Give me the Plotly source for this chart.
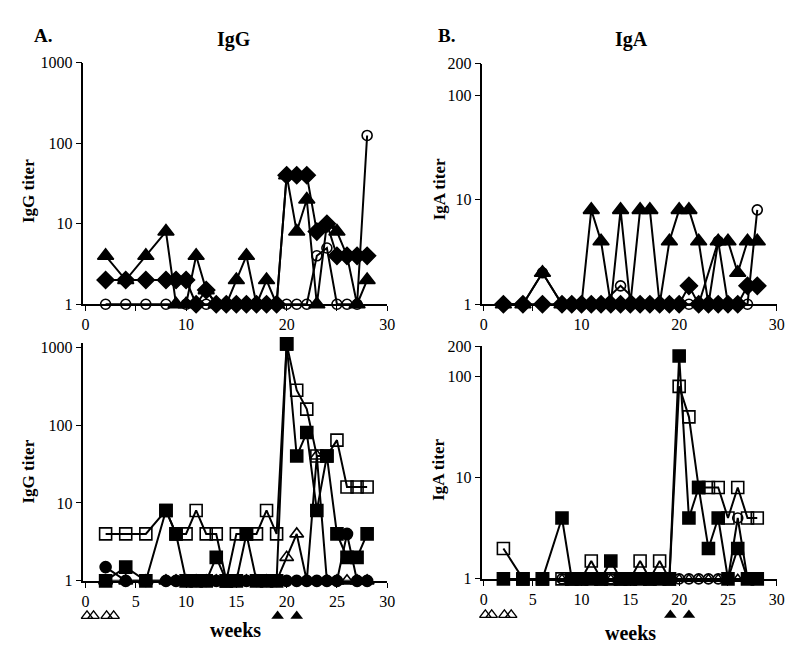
import math
import plotly.graph_objects as go

# ---------------- DATA ----------------
# Panel A top (IgG)
tl_tri_weeks = [2,4,6,8,9,10,11,12,13,14,15,16,17,18,19,20,21,22,23,24,25,26,27,28]
tl_tri_vals  = [4,2,4,8,1,1,4,1.5,1,1,2,4,1,2,1,40,8,20,1,10,8,4,1,2]
tl_dia_weeks = [2,4,6,8,9,10,11,12,13,14,15,16,17,18,19,20,21,22,23,24,25,26,27,28]
tl_dia_vals  = [2,2,2,2,2,2,1,1.5,1,1,1,1,1,1,1,40,40,40,8,10,4,4,4,4]
tl_cir_weeks = [2,4,6,8,10,12,14,16,18,20,21,22,23,24,25,26,27,28]
tl_cir_vals  = [1,1,1,1,1,1,1,1,1,1,1,1,4,5,1,1,1,125]

# Panel B top (IgA)
tr_tri_weeks = [2,4,6,8,9,10,11,12,13,14,15,16,17,18,19,20,21,22,23,24,25,26,27,28]
tr_tri_vals  = [1,1,2,1,1,1,8,4,1,8,1,8,8,1,4,8,8,4,1,4,4,2,4,4]
tr_dia_weeks = [2,4,6,8,9,10,11,12,13,14,15,16,17,18,19,20,21,22,23,24,25,26,27,28]
tr_dia_vals  = [1,1,1,1,1,1,1,1,1,1,1,1,1,1,1,1,1.5,1,1,1,1,1,1.5,1.5]
tr_cir_weeks = [2,4,6,8,10,12,14,16,18,20,21,22,24,25,26,27,28]
tr_cir_vals  = [1,1,2,1,1,1,1.5,1,1,1,1,1,4,1,1,1,8]

# Panel A bottom (IgG)
bl_weeks     = [2,4,6,8,9,10,11,12,13,14,15,16,17,18,19,20,21,22,23,24,25,26,27,28]
bl_osq_vals  = [4,4,4,8,4,4,8,4,4,1,4,4,4,8,4,1100,280,160,40,40,64,16,16,16]
bl_fsq_vals  = [1,1.5,1,8,4,1,1,1,2,1,1,4,1,1,1,1100,40,80,8,40,4,2,2,4]
bl_fci_vals  = [1.5,1,1,1,1,1,1,1,1,1,1,1,1,1,1,1,1,1,1,1,1,4,1,1]
bl_otr_vals  = [1,1,1,1,1,1,1,1,1,1,1,1,1,1,1,2,4,1,40,1,1,1,1,1]

# Panel B bottom (IgA)
br_weeks     = [2,4,6,8,9,10,11,12,13,14,15,16,17,18,19,20,21,22,23,24,25,26,27,28]
br_osq_vals  = [2,1,1,1,1,1,1.5,1,1,1,1,1.5,1,1.5,1,80,40,8,8,8,4,8,4,4]
br_fsq_vals  = [1,1,1,4,1,1,1,1,1.5,1,1,1,1,1,1,160,4,8,2,4,1,2,1,1]
br_oci_vals  = [1,1,1,1,1,1,1,1,1,1,1,1,1,1,1,1,1,1,1,1,1,4,1,1]
br_otr_vals  = [1,1,1,1,1,1,1,1,1,1,1,1,1,1,1,1,1,1,1,1,1,1,1,1]

# immunisation marks under the bottom panels
imm_open_weeks   = [0.15, 0.8, 2.1, 2.8]
imm_filled_weeks = [19.1, 21.0]

left_ticks_y  = [1, 10, 100, 1000]
right_ticks_y = [1, 10, 100, 200]
top_x_ticks   = [0, 5, 10, 15, 20, 25, 30]
top_x_text    = ['0', '', '10', '', '20', '', '30']
bot_x_text    = ['0', '5', '10', '15', '20', '25', '30']

# ---------------- FIGURE ----------------
W, H = 798, 650
FONT = "Liberation Serif"
fig = go.Figure()

def px(x):
    return x / W

def py(y):
    return 1 - y / H

def add(xa, ya, x, y, symbol, size, lw=2.0, mlw=1.6):
    fig.add_trace(go.Scatter(
        x=x, y=y, xaxis=xa, yaxis=ya, mode='lines+markers',
        line=dict(color='black', width=lw),
        marker=dict(symbol=symbol, size=size, color='black',
                    line=dict(color='black', width=mlw)),
        cliponaxis=False, showlegend=False, hoverinfo='skip'))

# top-left
add('x', 'y', tl_cir_weeks, tl_cir_vals, 'circle-open', 10)
add('x', 'y', tl_dia_weeks, tl_dia_vals, 'diamond', 13)
add('x', 'y', tl_tri_weeks, tl_tri_vals, 'triangle-up', 14)
# top-right
add('x2', 'y2', tr_dia_weeks, tr_dia_vals, 'diamond', 13)
add('x2', 'y2', tr_tri_weeks, tr_tri_vals, 'triangle-up', 14)
add('x2', 'y2', tr_cir_weeks, tr_cir_vals, 'circle-open', 10)
# bottom-left
add('x3', 'y3', bl_weeks, bl_fci_vals, 'circle', 11)
add('x3', 'y3', bl_weeks, bl_fsq_vals, 'square', 12)
add('x3', 'y3', bl_weeks, bl_osq_vals, 'square-open', 12)
add('x3', 'y3', bl_weeks, bl_otr_vals, 'triangle-up-open', 12)
# bottom-right
add('x4', 'y4', br_weeks, br_otr_vals, 'triangle-up-open', 9)
add('x4', 'y4', br_weeks, br_oci_vals, 'circle-open', 10)
add('x4', 'y4', br_weeks, br_fsq_vals, 'square', 12)
add('x4', 'y4', br_weeks, br_osq_vals, 'square-open', 12)

# immunisation marks (on hidden helper y-axes below the bottom panels)
for xa, ya in [('x3', 'y5'), ('x4', 'y6')]:
    fig.add_trace(go.Scatter(x=imm_open_weeks, y=[0.5]*len(imm_open_weeks), xaxis=xa, yaxis=ya,
                             mode='markers', marker=dict(symbol='triangle-up-open', size=10, color='black',
                                                         line=dict(width=1.4, color='black')),
                             cliponaxis=False, showlegend=False, hoverinfo='skip'))
    fig.add_trace(go.Scatter(x=imm_filled_weeks, y=[0.5]*len(imm_filled_weeks), xaxis=xa, yaxis=ya,
                             mode='markers', marker=dict(symbol='triangle-up', size=11, color='black'),
                             cliponaxis=False, showlegend=False, hoverinfo='skip'))

tickfont = dict(family=FONT, size=16, color='black')
xcommon = dict(showgrid=False, zeroline=False, showline=True, linecolor='black', linewidth=1.5,
               ticks='outside', ticklen=5, tickwidth=1.2, tickcolor='black', tickfont=tickfont,
               tickvals=top_x_ticks)
ycommon = dict(type='log', showgrid=False, zeroline=False, showline=True, linecolor='black', linewidth=1.5,
               ticks='outside', ticklen=6, tickwidth=1.2, tickcolor='black', tickfont=tickfont)

L_dom = [px(73.5), px(381.5)]
R_dom = [px(478), px(776.5)]
helper = dict(visible=False, range=[0, 1], showgrid=False, zeroline=False, fixedrange=True)

fig.update_layout(
    width=W, height=H, margin=dict(l=0, r=0, t=0, b=0),
    paper_bgcolor='white', plot_bgcolor='white',
    xaxis=dict(xcommon, domain=L_dom, range=[-0.2, 30], ticktext=top_x_text, anchor='y'),
    yaxis=dict(ycommon, domain=[py(296), py(48)], range=[0, 3], tickvals=left_ticks_y,
               ticktext=[str(v) for v in left_ticks_y], anchor='x'),
    xaxis2=dict(xcommon, domain=R_dom, range=[-0.15, 30], ticktext=top_x_text, anchor='y2'),
    yaxis2=dict(ycommon, domain=[py(296), py(49)], range=[0, math.log10(200)], tickvals=right_ticks_y,
                ticktext=[str(v) for v in right_ticks_y], anchor='x2'),
    xaxis3=dict(xcommon, domain=L_dom, range=[-0.2, 30], ticktext=bot_x_text, anchor='y3'),
    yaxis3=dict(ycommon, domain=[py(580), py(336)], range=[0, 3.05], tickvals=left_ticks_y,
                ticktext=[str(v) for v in left_ticks_y], anchor='x3'),
    xaxis4=dict(xcommon, domain=R_dom, range=[-0.15, 30], ticktext=bot_x_text, anchor='y4'),
    yaxis4=dict(ycommon, domain=[py(578), py(339)], range=[0, math.log10(200)], tickvals=right_ticks_y,
                ticktext=[str(v) for v in right_ticks_y], anchor='x4'),
    yaxis5=dict(helper, domain=[py(624), py(608)], anchor='x3'),
    yaxis6=dict(helper, domain=[py(623), py(607)], anchor='x4'),
)

def text(x, y, s, size, angle=0):
    fig.add_annotation(x=px(x), y=py(y), xref='paper', yref='paper', text=s, showarrow=False,
                       textangle=angle, xanchor='center', yanchor='middle',
                       font=dict(family=FONT, size=size, color='black'))

text(32, 20, '<b>A.</b>', 19)
text(442, 20, '<b>B.</b>', 19)
text(226, 24, '<b>IgG</b>', 20)
text(629, 24, '<b>IgA</b>', 20)
text(18, 180, '<b>IgG titer</b>', 17, -90)
text(18, 468, '<b>IgG titer</b>', 17, -90)
text(434, 178, '<b>IgA titer</b>', 17, -90)
text(434, 466, '<b>IgA titer</b>', 17, -90)
text(228, 631, '<b>weeks</b>', 20)
text(628, 634, '<b>weeks</b>', 20)

fig.write_html("out.html")
